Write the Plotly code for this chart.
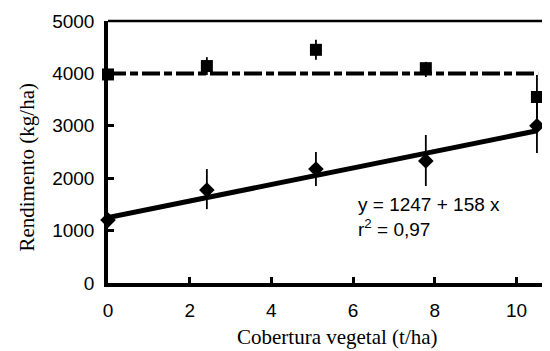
import plotly.graph_objects as go

# Data
cobertura = [0, 2.42, 5.09, 7.78, 10.5]
rend_sq = [3980, 4140, 4450, 4100, 3550]
err_sq_plus = [0, 170, 190, 120, 420]
err_sq_minus = [0, 170, 190, 170, 400]
rend_dia = [1200, 1775, 2175, 2330, 3000]
err_dia_plus = [0, 400, 325, 495, 500]
err_dia_minus = [0, 365, 325, 480, 520]
mean_x = [0, 10.53]
mean_y = [4000, 4000]
fit_x = [0, 10.5]
fit_y = [1247, 2906]

x_ticks = [0, 2, 4, 6, 8, 10]
y_ticks = [0, 1000, 2000, 3000, 4000, 5000]

SANS = "Liberation Sans, Arial, sans-serif"
SERIF = "Liberation Serif, Times New Roman, serif"

fig = go.Figure()

fig.add_trace(go.Scatter(x=mean_x, y=mean_y, mode="lines",
                         line=dict(color="black", width=4, dash="18px,4px,8px,4px"),
                         cliponaxis=False, showlegend=False))
fig.add_trace(go.Scatter(x=fit_x, y=fit_y, mode="lines",
                         line=dict(color="black", width=5),
                         cliponaxis=False, showlegend=False))
fig.add_trace(go.Scatter(x=cobertura, y=rend_sq, mode="markers",
                         marker=dict(symbol="square", size=12, color="black"),
                         error_y=dict(type="data", array=err_sq_plus, arrayminus=err_sq_minus,
                                      color="black", thickness=1.8, width=0),
                         cliponaxis=False, showlegend=False))
fig.add_trace(go.Scatter(x=cobertura, y=rend_dia, mode="markers",
                         marker=dict(symbol="diamond", size=12, color="black"),
                         error_y=dict(type="data", array=err_dia_plus, arrayminus=err_dia_minus,
                                      color="black", thickness=1.8, width=0),
                         cliponaxis=False, showlegend=False))

fig.add_annotation(x=6.08, y=1500, xref="x", yref="y", xanchor="left", yanchor="middle",
                   text="y = 1247 + 158 x", showarrow=False,
                   font=dict(family=SANS, size=19, color="black"))
fig.add_annotation(x=6.08, y=1050, xref="x", yref="y", xanchor="left", yanchor="middle",
                   text="r<sup>2</sup> = 0,97", showarrow=False,
                   font=dict(family=SANS, size=19, color="black"))

fig.add_annotation(x=0.52, y=-0.206, xref="paper", yref="paper", xanchor="center", yanchor="middle",
                   text="Cobertura vegetal (t/ha)", showarrow=False,
                   font=dict(family=SERIF, size=21, color="black"))
fig.add_annotation(x=-0.183, y=0.441, xref="paper", yref="paper", xanchor="center", yanchor="middle",
                   text="Rendimento (kg/ha)", textangle=-90, showarrow=False,
                   font=dict(family=SERIF, size=21, color="black"))

fig.add_shape(type="line", xref="paper", yref="paper", x0=0, x1=1, y0=1, y1=1,
              line=dict(color="black", width=2.5))

# page body has an 8px margin, so the figure is sized to fill the rest of the window
fig.update_layout(
    width=542, height=343,
    margin=dict(l=100, r=0, t=13, b=68),
    plot_bgcolor="white", paper_bgcolor="white",
    font=dict(family=SANS, size=19, color="black"),
    xaxis=dict(range=[0, 10.82], tickvals=x_ticks, ticks="inside", ticklen=6, tickwidth=3,
               tickcolor="black", showline=True, linewidth=3.5, linecolor="black",
               showgrid=False, zeroline=False, automargin=False, ticklabelstandoff=7,
               tickfont=dict(family=SANS, size=19)),
    yaxis=dict(range=[0, 5000], tickvals=y_ticks, ticks="inside", ticklen=6, tickwidth=3,
               tickcolor="black", showline=True, linewidth=3.5, linecolor="black",
               showgrid=False, zeroline=False, automargin=False, ticklabelstandoff=6,
               tickfont=dict(family=SANS, size=19)),
)

fig.write_html("out.html")
